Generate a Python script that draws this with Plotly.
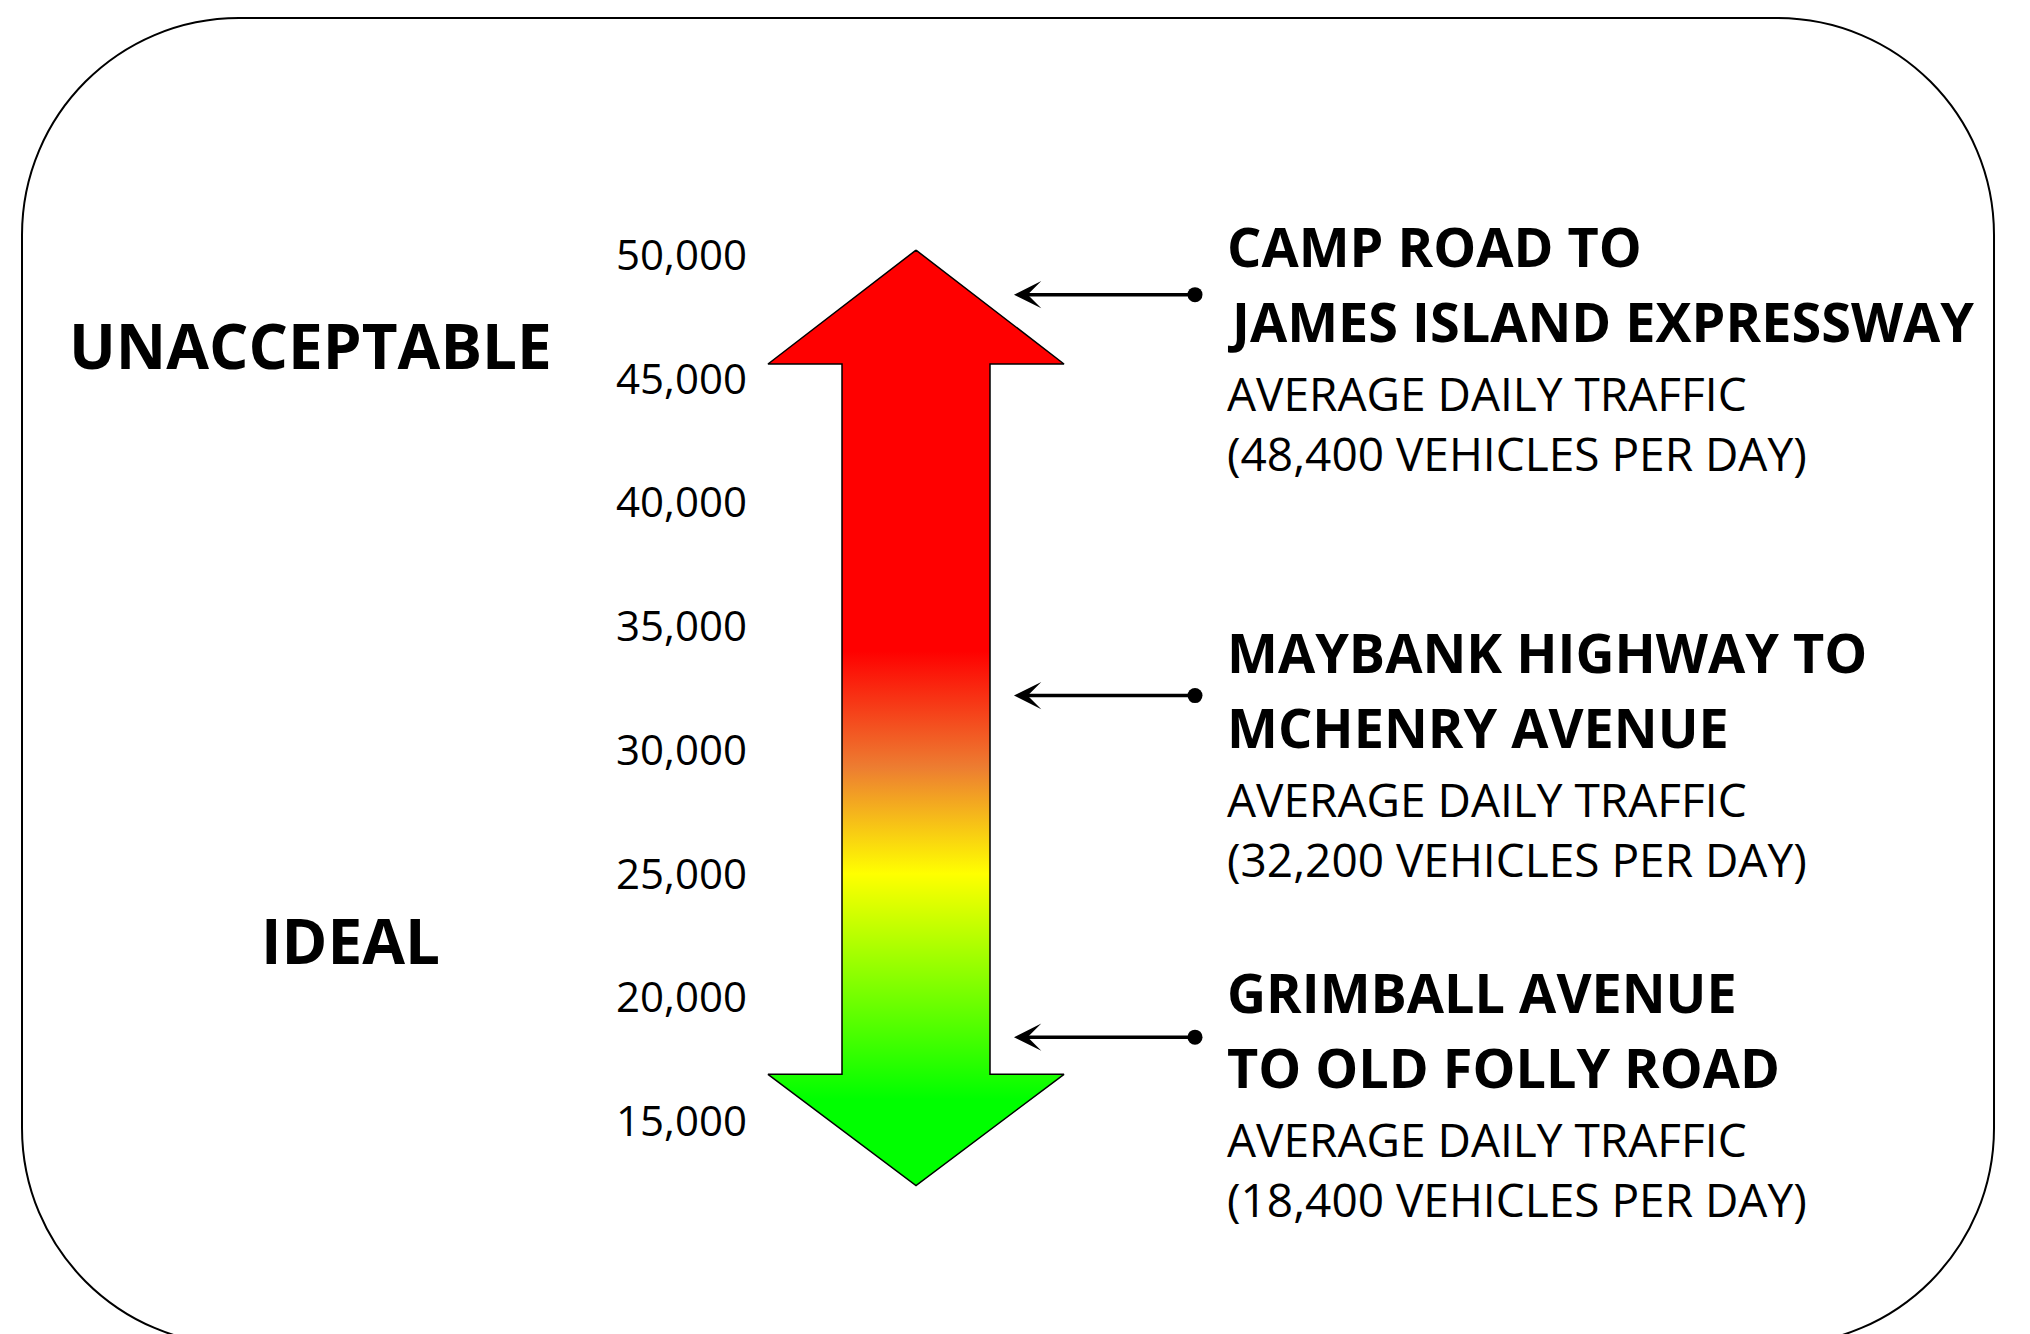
import plotly.graph_objects as go

# ---------------- data ----------------
tick_values = [15000, 20000, 25000, 30000, 35000, 40000, 45000, 50000]
road_line1 = ["CAMP ROAD TO", "MAYBANK HIGHWAY TO", "GRIMBALL AVENUE"]
road_line2 = ["JAMES ISLAND EXPRESSWAY", "MCHENRY AVENUE", "TO OLD FOLLY ROAD"]
adt_values = [48400, 32200, 18400]
zone_labels = ["UNACCEPTABLE", "IDEAL"]

# gradient stops along the scale (value, colour)
gradient_values = [15900, 25000, 29300, 34000]
gradient_colors = ["#00FF00", "#FFFF00", "#ED7D31", "#FF0000"]

# arrow geometry (value units for vertical extents)
ARROW_TIP_HI, HEAD_BASE_HI = 50200, 45600
HEAD_BASE_LO, ARROW_TIP_LO = 16900, 12400

# ---------------- layout constants ----------------
W, H = 2030, 1334
Y_RANGE = [6407, 60306]
FONT = "Open Sans"

def py(p):  # pixel row -> paper y
    return 1 - p / H

def px(x):
    return x / W

fig = go.Figure()

# big two-headed arrow with vertical gradient
cx, shaft_half, head_half = 916, 74, 148
ax_x = [cx, cx + head_half, cx + shaft_half, cx + shaft_half, cx + head_half, cx,
        cx - head_half, cx - shaft_half, cx - shaft_half, cx - head_half, cx]
ax_y = [ARROW_TIP_HI, HEAD_BASE_HI, HEAD_BASE_HI, HEAD_BASE_LO, HEAD_BASE_LO, ARROW_TIP_LO,
        HEAD_BASE_LO, HEAD_BASE_LO, HEAD_BASE_HI, HEAD_BASE_HI, ARROW_TIP_HI]
span = ARROW_TIP_HI - ARROW_TIP_LO
cs = [[0, gradient_colors[0]]]
for v, c in zip(gradient_values, gradient_colors):
    cs.append([(v - ARROW_TIP_LO) / span, c])
cs.append([1, gradient_colors[-1]])
fig.add_trace(go.Scatter(
    x=ax_x, y=ax_y, mode="lines", fill="toself",
    line=dict(color="black", width=1.5),
    fillgradient=dict(type="vertical", start=ARROW_TIP_LO, stop=ARROW_TIP_HI, colorscale=cs),
    hoverinfo="skip", showlegend=False))

# pointer arrows with dots
PTR_HEAD_X, PTR_TAIL_X = 1014, 1195
fig.add_trace(go.Scatter(
    x=[PTR_TAIL_X] * len(adt_values), y=adt_values, mode="markers",
    marker=dict(color="black", size=15), hoverinfo="skip", showlegend=False))
for v in adt_values:
    fig.add_annotation(x=PTR_HEAD_X, y=v, ax=PTR_TAIL_X, ay=v, xref="x", yref="y",
                       axref="x", ayref="y", text="", showarrow=True, arrowhead=3,
                       arrowsize=1.3, arrowwidth=3.5, arrowcolor="black")

# text blocks
block_top = [246, 652, 992]
line_off = [0, 75, 147, 207]
TEXT_X = 1225
for i in range(3):
    lines = [road_line1[i], road_line2[i], "AVERAGE DAILY TRAFFIC",
             f"({adt_values[i]:,} VEHICLES PER DAY)"]
    for j, t in enumerate(lines):
        bold = j < 2
        fig.add_annotation(x=px(TEXT_X), y=py(block_top[i] + line_off[j]), xref="paper", yref="paper",
                           text=t, showarrow=False, xanchor="left", yanchor="middle",
                           font=dict(family=FONT, size=54 if bold else 46, color="black",
                                     weight=700 if bold else 400))

# zone labels
zone_pos = [(310, 345), (350, 940)]
for t, (x, y) in zip(zone_labels, zone_pos):
    fig.add_annotation(x=px(x), y=py(y), xref="paper", yref="paper", text=t, showarrow=False,
                       xanchor="center", yanchor="middle",
                       font=dict(family=FONT, size=62, color="black", weight=700))

# rounded border
x0, y0, x1, y1, r = 22, 18, 1994, 1345, 217
k = 0.5523 * r
pts = lambda x, y: f"{px(x):.5f},{py(y):.5f}"
path = (f"M{pts(x0 + r, y0)} L{pts(x1 - r, y0)} "
        f"C{pts(x1 - r + k, y0)} {pts(x1, y0 + r - k)} {pts(x1, y0 + r)} "
        f"L{pts(x1, y1 - r)} "
        f"C{pts(x1, y1 - r + k)} {pts(x1 - r + k, y1)} {pts(x1 - r, y1)} "
        f"L{pts(x0 + r, y1)} "
        f"C{pts(x0 + r - k, y1)} {pts(x0, y1 - r + k)} {pts(x0, y1 - r)} "
        f"L{pts(x0, y0 + r)} "
        f"C{pts(x0, y0 + r - k)} {pts(x0 + r - k, y0)} {pts(x0 + r, y0)} Z")
fig.add_shape(type="path", path=path, xref="paper", yref="paper",
              line=dict(color="black", width=2), fillcolor="rgba(0,0,0,0)", layer="below")

fig.update_layout(
    width=W, height=H, margin=dict(l=0, r=0, t=0, b=0),
    paper_bgcolor="white", plot_bgcolor="white", showlegend=False,
    xaxis=dict(range=[0, W], visible=False, fixedrange=True),
    yaxis=dict(range=Y_RANGE, anchor="free", position=747 / W, side="left",
               tickvals=tick_values, tickformat=",", ticks="", showgrid=False,
               zeroline=False, showline=False, fixedrange=True,
               tickfont=dict(family=FONT, size=42, color="black")),
)

fig.write_html("out.html", config={"displayModeBar": False},
               post_script="document.body.style.margin='0px';document.body.style.overflow='hidden';")
